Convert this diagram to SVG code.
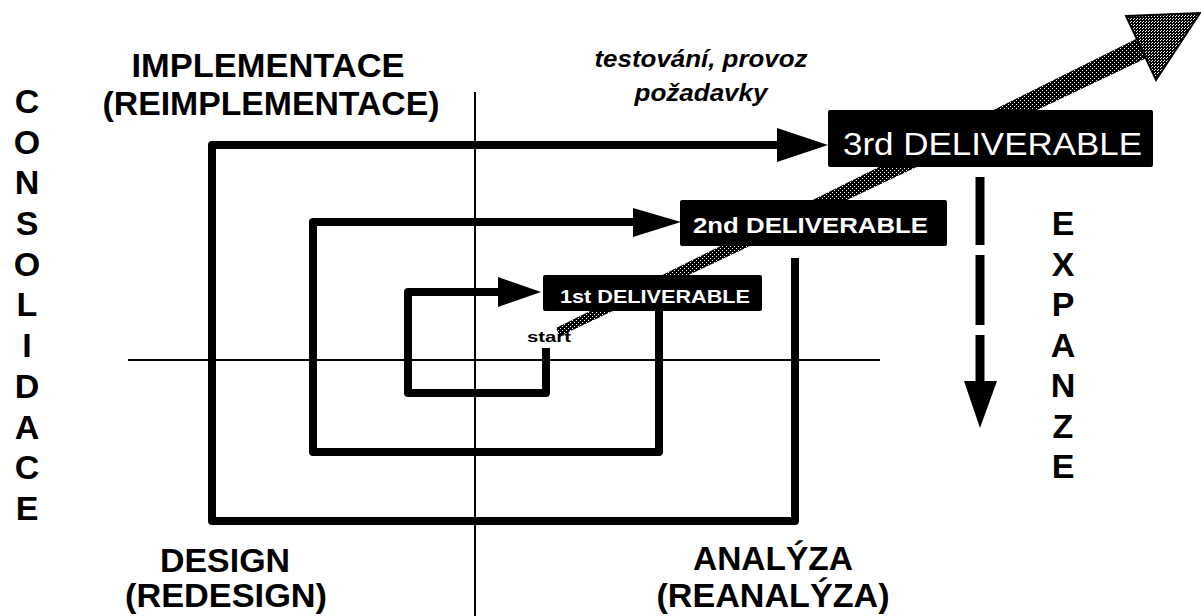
<svg xmlns="http://www.w3.org/2000/svg" width="1201" height="616" viewBox="0 0 1201 616">
  <style>
    .lbl { font-family: "Liberation Sans", Arial, sans-serif; font-weight: bold; font-size: 34px; fill: #000; text-anchor: middle; }
    .note { font-family: "Liberation Sans", Arial, sans-serif; font-weight: bold; font-style: italic; font-size: 24px; fill: #000; text-anchor: middle; }
    .box { fill: #000; }
    .btxt { font-family: "Liberation Sans", Arial, sans-serif; fill: #fff; }
    .axis { stroke: #000; stroke-width: 2; fill: none; }
    .spiral { stroke: #000; stroke-width: 8; fill: none; stroke-linejoin: round; }
    .head { fill: #000; }
  </style>
  <defs>
    <pattern id="stipDark" width="4" height="4" patternUnits="userSpaceOnUse">
      <rect width="4" height="4" fill="#000"/>
      <rect x="0" y="0" width="1" height="1" fill="#fff"/>
      <rect x="2" y="2" width="1" height="1" fill="#fff"/>
    </pattern>
    <pattern id="stipLight" width="3" height="3" patternUnits="userSpaceOnUse">
      <rect width="3" height="3" fill="#000"/>
      <rect x="0" y="0" width="1" height="1" fill="#fff"/>
      <rect x="2" y="1" width="1" height="1" fill="#fff"/>
    </pattern>
  </defs>
  <rect width="1201" height="616" fill="#fff"/>

  <g id="axes">
    <line class="axis" x1="475" y1="92" x2="475" y2="616"/>
    <line class="axis" x1="128" y1="360" x2="880" y2="360"/>
  </g>

  <g id="connectors">
    <!-- expansion diagonal arrow -->
    <polygon points="556,328 1146,34 1155,54 560,336" fill="url(#stipDark)"/>
    <polygon points="1126,16 1200,13 1156,80" fill="url(#stipLight)" stroke="#000" stroke-width="2"/>
    <!-- spiral -->
    <path class="spiral" d="M546,348 V393 H408 V292 H502"/>
    <polygon class="head" points="498,277 541,292 498,307"/>
    <path class="spiral" d="M659,311 V452 H313 V222 H638"/>
    <polygon class="head" points="633,208 681,222 633,237"/>
    <path class="spiral" d="M795,258 V521 H212 V145 H782"/>
    <polygon class="head" points="777,128 828,145 777,162"/>
    <!-- expanze arrow -->
    <path d="M980,177 V245 M980,255 V325 M980,335 V385" stroke="#000" stroke-width="9" fill="none"/>
    <polygon class="head" points="964,381 997,381 980,428"/>
  </g>

  <g id="deliverable1">
    <rect class="box" x="543" y="275" width="219" height="36" rx="2"/>
    <text class="btxt" x="560" y="303" font-size="18" font-weight="bold" textLength="190" lengthAdjust="spacingAndGlyphs">1st DELIVERABLE</text>
  </g>
  <g id="deliverable2">
    <rect class="box" x="680" y="200" width="267" height="46" rx="2"/>
    <text class="btxt" x="693" y="233" font-size="22" font-weight="bold" textLength="235" lengthAdjust="spacingAndGlyphs">2nd DELIVERABLE</text>
  </g>
  <g id="deliverable3">
    <rect class="box" x="828" y="110" width="325" height="57" rx="2"/>
    <text class="btxt" x="843" y="155" font-size="31" textLength="299" lengthAdjust="spacingAndGlyphs">3rd DELIVERABLE</text>
  </g>

  <g id="start">
    <text x="527" y="342" font-family="Liberation Sans, Arial, sans-serif" font-weight="bold" font-size="14" textLength="44" lengthAdjust="spacingAndGlyphs">start</text>
  </g>

  <g id="implementace">
    <text class="lbl" x="268" y="77" textLength="273" lengthAdjust="spacingAndGlyphs">IMPLEMENTACE</text>
    <text class="lbl" x="271" y="115" textLength="337" lengthAdjust="spacingAndGlyphs">(REIMPLEMENTACE)</text>
  </g>
  <g id="testovani">
    <text class="note" x="701" y="67" textLength="213" lengthAdjust="spacingAndGlyphs">testování, provoz</text>
    <text class="note" x="701" y="101" textLength="133" lengthAdjust="spacingAndGlyphs">požadavky</text>
  </g>
  <g id="design">
    <text class="lbl" x="225" y="572" textLength="130" lengthAdjust="spacingAndGlyphs">DESIGN</text>
    <text class="lbl" x="226" y="607" textLength="202" lengthAdjust="spacingAndGlyphs">(REDESIGN)</text>
  </g>
  <g id="analyza">
    <text class="lbl" x="773" y="570" textLength="160" lengthAdjust="spacingAndGlyphs">ANALÝZA</text>
    <text class="lbl" x="773" y="607" textLength="233" lengthAdjust="spacingAndGlyphs">(REANALÝZA)</text>
  </g>
  <g id="consolidace">
    <text class="lbl" x="27" y="113">C</text>
    <text class="lbl" x="27" y="154">O</text>
    <text class="lbl" x="27" y="194">N</text>
    <text class="lbl" x="27" y="235">S</text>
    <text class="lbl" x="27" y="276">O</text>
    <text class="lbl" x="27" y="316">L</text>
    <text class="lbl" x="27" y="357">I</text>
    <text class="lbl" x="27" y="398">D</text>
    <text class="lbl" x="27" y="439">A</text>
    <text class="lbl" x="27" y="479">C</text>
    <text class="lbl" x="27" y="520">E</text>
  </g>
  <g id="expanze">
    <text class="lbl" x="1063" y="235">E</text>
    <text class="lbl" x="1063" y="276">X</text>
    <text class="lbl" x="1063" y="316">P</text>
    <text class="lbl" x="1063" y="357">A</text>
    <text class="lbl" x="1063" y="397">N</text>
    <text class="lbl" x="1063" y="438">Z</text>
    <text class="lbl" x="1063" y="478">E</text>
  </g>
</svg>
